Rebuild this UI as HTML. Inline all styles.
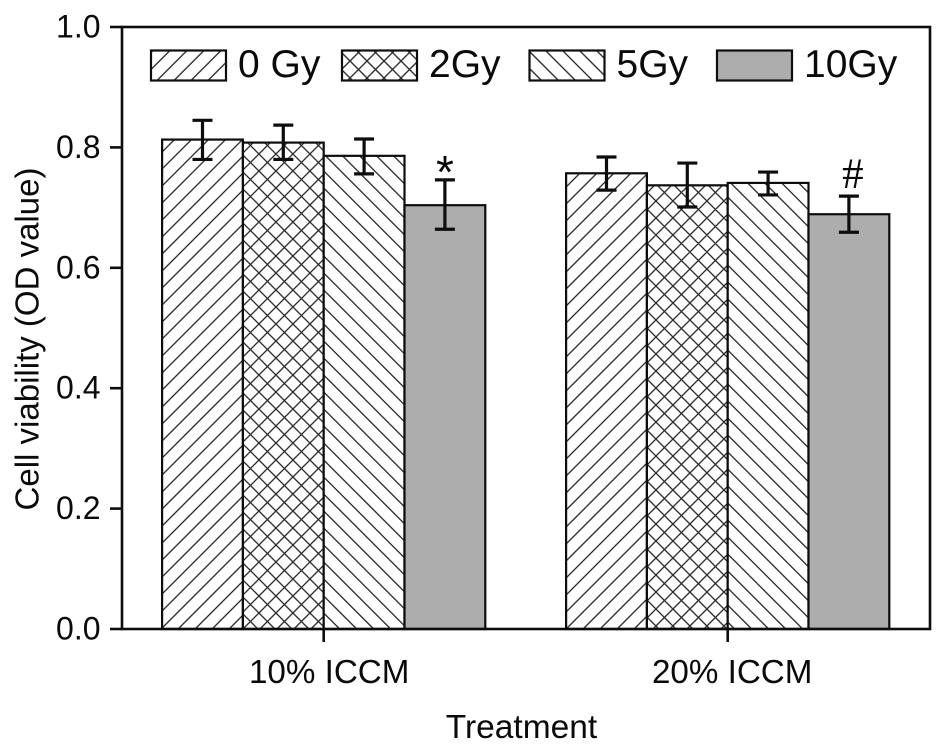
<!DOCTYPE html>
<html lang="en">
<head>
<meta charset="utf-8">
<title>Cell viability chart</title>
<style>
html,body{margin:0;padding:0;background:#fff;width:945px;height:752px;overflow:hidden}
svg{display:block}
text{font-family:"Liberation Sans",sans-serif;fill:#0a0a0a}
</style>
</head>
<body>
<svg id="chart" width="945" height="752" viewBox="0 0 945 752" xmlns="http://www.w3.org/2000/svg">
<defs id="clips"></defs>
<rect x="0" y="0" width="945" height="752" fill="#fff"/>
<g id="bars"></g>
<g id="axes"></g>
<g id="legend"></g>
<text x="521.5" y="738" font-size="33.5" text-anchor="middle">Treatment</text>
<text transform="translate(38.5 339) rotate(-90)" font-size="33" text-anchor="middle">Cell viability (OD value)</text>
</svg>
<script>
const categories = ['10% ICCM', '20% ICCM'];
const seriesNames = ['0 Gy', '2Gy', '5Gy', '10Gy'];
const values0Gy = [0.813, 0.757];
const values2Gy = [0.808, 0.737];
const values5Gy = [0.786, 0.741];
const values10Gy = [0.704, 0.689];
const errorHigh0Gy = [0.845, 0.784];
const errorHigh2Gy = [0.837, 0.774];
const errorHigh5Gy = [0.814, 0.759];
const errorHigh10Gy = [0.746, 0.719];
const errorLow0Gy = [0.780, 0.729];
const errorLow2Gy = [0.780, 0.701];
const errorLow5Gy = [0.756, 0.721];
const errorLow10Gy = [0.664, 0.659];
const significanceMarks = ['*', '#'];
const yTicks = [0, 0.2, 0.4, 0.6, 0.8, 1.0];

const seriesValues = [values0Gy, values2Gy, values5Gy, values10Gy];
const seriesHigh = [errorHigh0Gy, errorHigh2Gy, errorHigh5Gy, errorHigh10Gy];
const seriesLow = [errorLow0Gy, errorLow2Gy, errorLow5Gy, errorLow10Gy];

const NS = 'http://www.w3.org/2000/svg';
const plotLeft = 122, plotRight = 930, plotTop = 27, plotBottom = 629;
const barWidth = 80.8, groupGap = 404;
const firstGroupCentre = 323.7;
const ink = '#0d0d0d';
const hatchPeriod = 17;
const greyFill = '#adadad';

/* hatch phase offsets along the bottom edge: [rising "/", falling "\"] per style */
const barHatch = [
  [{ up: 16 }, { up: 0, down: 15 }, { down: 16 }],
  [{ up: 0 }, { up: 6, down: 12 }, { down: 7 }]
];
const legendHatch = [{ up: 6 }, { up: 5.5, down: 10.5 }, { down: 12 }];

function yScale(v) { return plotBottom - v * (plotBottom - plotTop); }
function xCentre(groupIndex) { return firstGroupCentre + groupIndex * groupGap; }
function barLeft(groupIndex, seriesIndex) { return xCentre(groupIndex) + (seriesIndex - 2) * barWidth; }

function make(tag, attrs, parent) {
  const el = document.createElementNS(NS, tag);
  for (const k in attrs) el.setAttribute(k, attrs[k]);
  parent.appendChild(el);
  return el;
}
function slug(s) { return s.toLowerCase().replace(/[^a-z0-9]+/g, '-').replace(/^-|-$/g, ''); }

const clipsEl = document.getElementById('clips');
const barsG = document.getElementById('bars');
const axesG = document.getElementById('axes');
const legendG = document.getElementById('legend');
let clipCount = 0;

function hatchLines(x, top, w, h, phase) {
  let d = '';
  const bottom = top + h;
  if (phase.up !== undefined) {
    for (let x0 = x + phase.up - Math.ceil(h / hatchPeriod + 1) * hatchPeriod; x0 < x + w + hatchPeriod; x0 += hatchPeriod) {
      d += 'M' + x0 + ' ' + bottom + 'L' + (x0 + h) + ' ' + top;
    }
  }
  if (phase.down !== undefined) {
    for (let x0 = x + phase.down - hatchPeriod; x0 < x + w + h + hatchPeriod; x0 += hatchPeriod) {
      d += 'M' + x0 + ' ' + bottom + 'L' + (x0 - h) + ' ' + top;
    }
  }
  return d;
}

function drawBox(parent, x, top, w, h, phase, name) {
  const fill = phase ? '#fff' : greyFill;
  const bg = make('rect', { x: x, y: top, width: w, height: h, fill: fill }, parent);
  
  
  if (phase) {
    clipCount += 1;
    const cid = 'clip-' + clipCount;
    const cp = make('clipPath', { id: cid }, clipsEl);
    make('rect', { x: x, y: top, width: w, height: h }, cp);
    const hatch = make('path', { d: hatchLines(x, top, w, h, phase), fill: 'none', stroke: '#2e2e2e', 'stroke-width': 1.35, 'clip-path': 'url(#' + cid + ')' }, parent);
    
    
  }
  const box = make('rect', { x: x, y: top, width: w, height: h, fill: 'none', stroke: ink, 'stroke-width': 2.2 }, parent);
  
  
}

categories.forEach(function (cat, g) {
  seriesValues.forEach(function (vals, s) {
    const top = yScale(vals[g]);
    drawBox(barsG, barLeft(g, s), top, barWidth, plotBottom - top, barHatch[g][s], 'bar-' + slug(cat) + '-' + slug(seriesNames[s]));
  });
});

categories.forEach(function (cat, g) {
  seriesValues.forEach(function (vals, s) {
    const cx = barLeft(g, s) + barWidth / 2;
    const hi = yScale(seriesHigh[s][g]);
    const lo = yScale(seriesLow[s][g]);
    const err = make('path', {
      d: 'M' + (cx - 10) + ' ' + hi + 'H' + (cx + 10) + 'M' + cx + ' ' + hi + 'V' + lo + 'M' + (cx - 10) + ' ' + lo + 'H' + (cx + 10),
      fill: 'none', stroke: ink, 'stroke-width': 3.2
    }, barsG);
    
    
  });
  const barMid = barLeft(g, 3) + barWidth / 2;
  const markX = g === 0 ? barMid : barMid + 4;
  const markY = yScale(seriesHigh[3][g]) + (g === 0 ? 8 : -8);
  const mark = make('text', { x: markX, y: markY, 'font-size': g === 0 ? 46 : 43, 'text-anchor': 'middle', style: g === 0 ? 'font-family:"Liberation Sans",sans-serif' : 'font-family:"Liberation Serif",serif' }, barsG);
  mark.textContent = significanceMarks[g];
  
  
});

const frame = make('rect', { x: plotLeft, y: plotTop, width: plotRight - plotLeft, height: plotBottom - plotTop, fill: 'none', stroke: ink, 'stroke-width': 2.6 }, axesG);



yTicks.forEach(function (t) {
  const y = yScale(t);
  const tick = make('line', { x1: 110, x2: plotLeft, y1: y, y2: y, stroke: ink, 'stroke-width': 2.6 }, axesG);
  
  
  const label = make('text', { x: 100.5, y: y + 10.5, 'font-size': 32, 'text-anchor': 'end' }, axesG);
  label.textContent = t.toFixed(1);
  
  
});

categories.forEach(function (cat, g) {
  const x = xCentre(g);
  const tick = make('line', { x1: x, x2: x, y1: plotBottom, y2: 642, stroke: ink, 'stroke-width': 2.6 }, axesG);
  
  
  const label = make('text', { x: x + 5.5 - g * 1, y: 683, 'font-size': 33.2, 'text-anchor': 'middle' }, axesG);
  label.textContent = cat;
  
  
});

const legendStart = 151, legendSteps = [0, 191, 378.5, 566];
seriesNames.forEach(function (name, s) {
  const x = legendStart + legendSteps[s];
  drawBox(legendG, x, 50.5, 75, 30, legendHatch[s], 'legend-swatch-' + slug(name));
  const label = make('text', { x: x + 87, y: 77, 'font-size': 39 }, legendG);
  label.textContent = name;
  
  
});
</script>
</body>
</html>
